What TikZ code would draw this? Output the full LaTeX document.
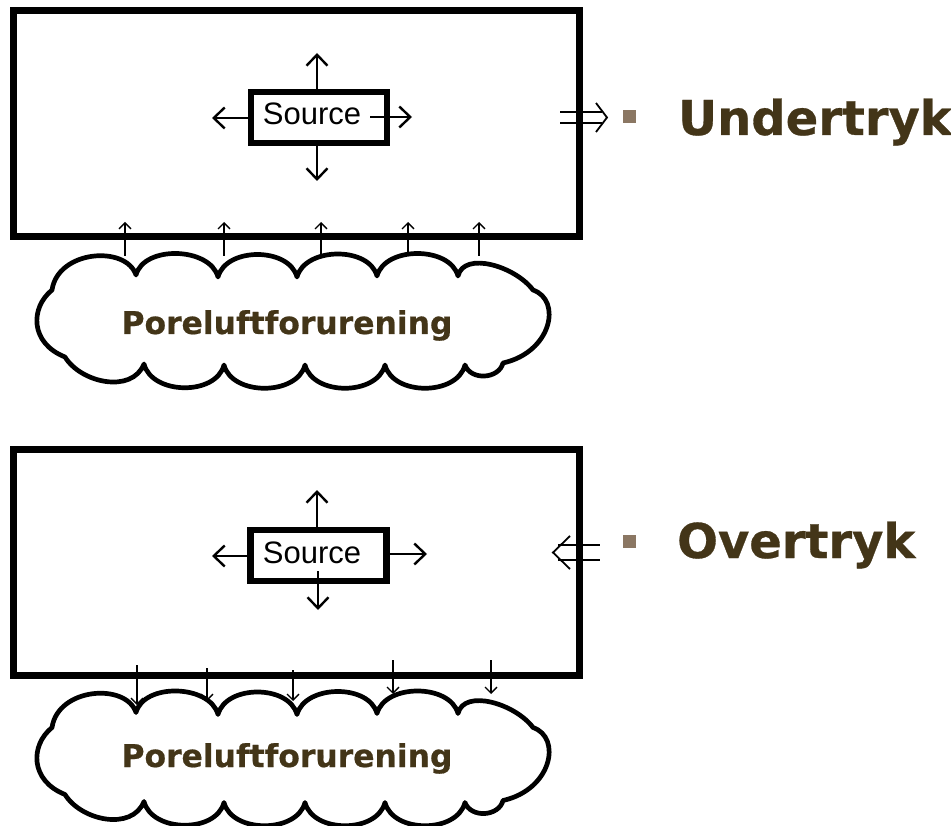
\documentclass[tikz,border=0pt]{standalone}
\usepackage{fontspec}
\setmainfont{DejaVu Sans}
\newfontfamily\arialfont{Liberation Sans}
\newfontfamily\heavyfont{DejaVu Sans Bold}[FakeBold=0.6]
\usetikzlibrary{arrows.meta}
\definecolor{txtbrown}{HTML}{433518}
\definecolor{bulletbrown}{HTML}{8B7763}

% outline of the soil-gas cloud (image coordinates, y downwards)
\newcommand\cloudoutline{%
  (52,290) .. controls +(6,-40) and +(-10,-30) .. (136,275)
  .. controls +(8,-30) and +(-8,-30) .. (218,277)
  .. controls +(8,-30) and +(-8,-30) .. (297,277)
  .. controls +(8,-30) and +(-8,-30) .. (377,276)
  .. controls +(8,-30) and +(-8,-30) .. (458,276)
  .. controls +(6,-25) and +(-18,-24) .. (533,290)
  .. controls +(29,10) and +(49,-11) .. (503,363)
  .. controls +(-4,16) and +(6,16) .. (465,365)
  .. controls +(-8,31) and +(8,31) .. (385,365)
  .. controls +(-8,31) and +(8,31) .. (305,365)
  .. controls +(-8,31) and +(8,31) .. (224,365)
  .. controls +(-8,31) and +(8,31) .. (144,364)
  .. controls +(-12,30) and +(16,26) .. (65,357)
  .. controls +(-35,-14) and +(-22,18) .. (52,290) -- cycle}

\tikzset{
  room/.style={draw, line width=7pt, rectangle, minimum width=566pt, minimum height=226pt, inner sep=0pt},
  srcbox/.style={draw, line width=6.5pt, rectangle, minimum width=136pt, minimum height=51pt, inner sep=0pt},
  srclabel/.style={font=\arialfont\fontsize{31}{31}\selectfont, inner sep=0pt},
  bigarrow/.style={line width=2.4pt, -{Straight Barb[length=11pt,width=21pt]}},
  flowarrow/.style={line width=1.4pt, -{Straight Barb[length=6pt,width=12pt]}},
  cloudline/.style={line width=4.7pt, line join=round},
  cloudlabel/.style={text=txtbrown, font=\heavyfont\fontsize{31.4}{31.4}\selectfont, inner sep=0pt, anchor=base},
  headline/.style={text=txtbrown, font=\heavyfont\fontsize{48}{48}\selectfont, inner sep=0pt, anchor=base west},
  bulletsq/.style={fill=bulletbrown, draw=none, minimum size=13pt, inner sep=0pt},
  dblline/.style={line width=1.8pt}
}

\begin{document}
\begin{tikzpicture}[x=1pt,y=-1pt]
\useasboundingbox[fill=white] (0,0) rectangle (951,826);

% ---------- upper case: under-pressure ----------
\node[room] (room1) at (296,124) {};
\node[srcbox] (box1) at (319,117.5) {};
\node[srclabel] (lbl1) at (312,114) {Source};
\draw[bigarrow] (box1.north -| 317,0) -- (317,53);
\draw[bigarrow] (box1.south -| 317,0) -- (317,181);
\draw[bigarrow] (box1.west |- 0,118) -- (212,118);
\draw[bigarrow] ([xshift=9pt]lbl1.east |- 0,117) -- (412,117);

\draw[cloudline] \cloudoutline;
\node[cloudlabel] (gas1) at (287,334) {Poreluftforurening};

\foreach \xx in {125,224,321,408,479}
  \draw[flowarrow] (\xx,256) -- (\xx,222);

% double arrow pointing out of the building
\draw[dblline] (560,112) -- (602,112) (560,123) -- (602,123);
\draw[dblline] (596,103) -- (607,117.5) -- (596,132);
\node[bulletsq] (b1) at (629.5,117) {};
\node[headline] (h1) at (678,135) {Undertryk};

% ---------- lower case: over-pressure ----------
\node[room] (room2) at (296,562) {};
\node[srcbox] (box2) at (318.5,555.5) {};
\node[srclabel] (lbl2) at (312,553) {Source};
\draw[bigarrow] (box2.north -| 317,0) -- (317,490);
\draw[bigarrow] (318,571) -- (318,610);
\draw[bigarrow] (box2.west |- 0,556) -- (212,556);
\draw[bigarrow] (box2.east |- 0,554) -- (427,554);

\begin{scope}[shift={(0,437.5)}]
  \draw[cloudline] \cloudoutline;
\end{scope}
\node[cloudlabel] (gas2) at (287,767) {Poreluftforurening};

\draw[flowarrow] (137,665) -- (137,705);
\draw[flowarrow] (207,668) -- (207,701);
\draw[flowarrow] (293,670) -- (293,701);
\draw[flowarrow] (393,660) -- (393,694);
\draw[flowarrow] (491,660) -- (491,694);

% double arrow pointing into the building
\draw[dblline] (558,545) -- (600,545) (558,560) -- (600,560);
\draw[dblline] (570,536) -- (553,552.5) -- (570,569);
\node[bulletsq] (b2) at (629.5,541) {};
\node[headline] (h2) at (677,558) {Overtryk};
\end{tikzpicture}
\end{document}
